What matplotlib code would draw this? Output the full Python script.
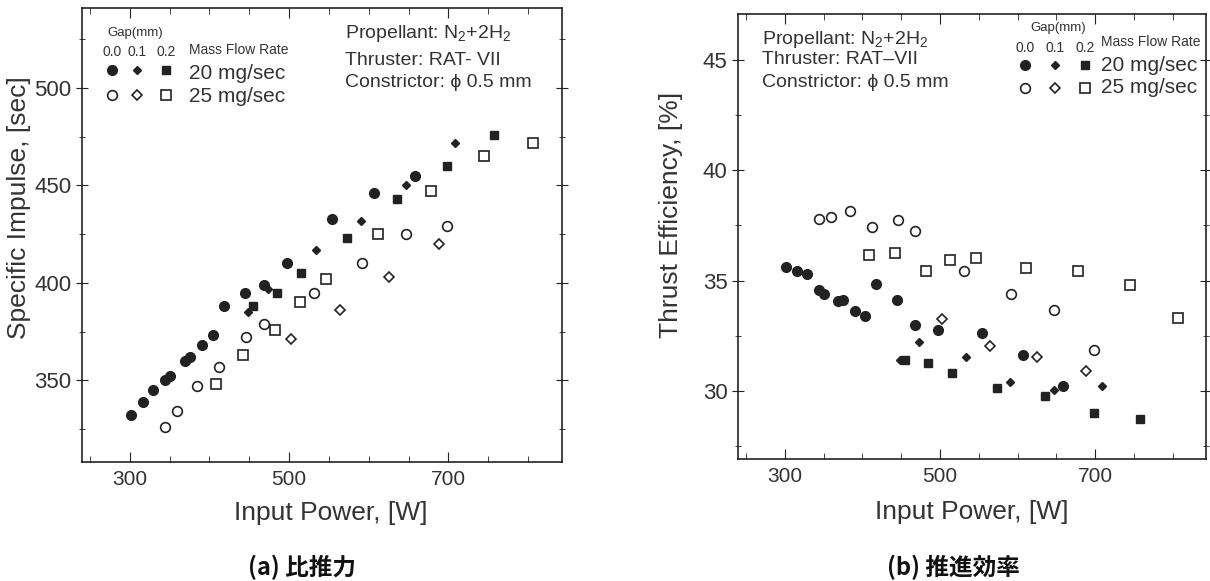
import matplotlib
matplotlib.use('Agg')
import matplotlib.pyplot as plt
from matplotlib.ticker import MultipleLocator

plt.rcParams['font.family'] = ['Liberation Sans', 'DejaVu Sans']
plt.rcParams['mathtext.default'] = 'regular'

INK = '#222222'
TXT = '#333333'

# 20 mg/sec, gap 0.0 / 0.1 / 0.2 mm (filled markers)
power_c20 = [302, 316, 329, 344, 350, 369, 375, 391, 404, 418, 445, 468, 497, 554, 607, 658]
isp_c20 = [332, 339, 345, 350, 352, 360, 362, 368, 373, 388, 395, 399, 410, 433, 446, 455]
eff_c20 = [35.6, 35.45, 35.3, 34.55, 34.4, 34.05, 34.1, 33.6, 33.4, 34.85, 34.1, 33.0, 32.75, 32.6, 31.6, 30.2]

power_d20 = [448, 473, 534, 590, 647, 708]
isp_d20 = [385, 397, 417, 432, 450, 472]
eff_d20 = [31.4, 32.2, 31.55, 30.4, 30.05, 30.2]

power_s20 = [455, 485, 515, 573, 635, 698, 757]
isp_s20 = [388, 395, 405, 423, 443, 460, 476]
eff_s20 = [31.4, 31.25, 30.8, 30.1, 29.75, 29.0, 28.7]

# 25 mg/sec (open markers)
power_c25 = [344, 359, 384, 412, 446, 468, 531, 591, 647, 698]
isp_c25 = [326, 334, 347, 357, 372, 379, 395, 410, 425, 429]
eff_c25 = [37.8, 37.9, 38.15, 37.45, 37.75, 37.25, 35.45, 34.4, 33.65, 31.85]

power_d25 = [502, 564, 625, 688]
isp_d25 = [371, 386, 403, 420]
eff_d25 = [33.25, 32.05, 31.55, 30.9]

power_s25 = [408, 442, 482, 513, 546, 611, 678, 745, 806]
isp_s25 = [348, 363, 376, 390, 402, 425, 447, 465, 472]
eff_s25 = [36.15, 36.25, 35.45, 35.95, 36.0, 35.55, 35.45, 34.8, 33.3]

gap_labels = ['0.0', '0.1', '0.2']
flow_labels = ['20 mg/sec', '25 mg/sec']

STYLES = {
    'c20': dict(marker='o', ms=7.0, mfc=INK, mec=INK),
    'd20': dict(marker='D', ms=4.5, mfc=INK, mec=INK),
    's20': dict(marker='s', ms=6.3, mfc=INK, mec=INK),
    'c25': dict(marker='o', ms=7.0, mfc='white', mec=INK, mew=1.2),
    'd25': dict(marker='D', ms=5.5, mfc='white', mec=INK, mew=1.2),
    's25': dict(marker='s', ms=7.5, mfc='white', mec=INK, mew=1.2),
}


def style_axes(ax):
    for sp in ax.spines.values():
        sp.set_color(INK)
        sp.set_linewidth(1.2)
    ax.tick_params(which='both', top=True, right=True, colors=INK, labelcolor=TXT)
    ax.tick_params(axis='x', which='major', direction='in', length=7, labelsize=15, pad=6)
    ax.tick_params(axis='x', which='minor', direction='in', length=4)
    ax.tick_params(axis='y', which='major', direction='inout', length=9, labelsize=16, pad=3)
    ax.tick_params(axis='y', which='minor', direction='inout', length=5)
    ax.set_xlim(240, 843)
    ax.xaxis.set_minor_locator(MultipleLocator(50))
    ax.set_xticks([300, 500, 700])


def plot_series(ax, series):
    for key, x, y in series:
        ax.plot(x, y, linestyle='none', **STYLES[key])


def draw_key(ax, gx, gy, mx, my, fx, fy):
    ax.text(gx, gy, 'Gap(mm)', transform=ax.transAxes, ha='center', va='center',
            fontsize=9.5, color=TXT)
    for i, lab in enumerate(gap_labels):
        ax.text(mx[i], my[0], lab, transform=ax.transAxes, ha='center', va='center',
                fontsize=10, color=TXT)
    rows = [['c20', 'd20', 's20'], ['c25', 'd25', 's25']]
    for r, keys in enumerate(rows):
        for i, key in enumerate(keys):
            ax.plot(mx[i], my[r + 1], transform=ax.transAxes, clip_on=False,
                    linestyle='none', **STYLES[key])
    ax.text(fx, fy[0], 'Mass Flow Rate', transform=ax.transAxes, ha='left', va='center',
            fontsize=10, color=TXT)
    for r, lab in enumerate(flow_labels):
        ax.text(fx, fy[r + 1], lab, transform=ax.transAxes, ha='left', va='center',
                fontsize=15, color=TXT)


def draw_notes(ax, x, ys, thruster):
    lines = ['Propellant: N$_2$+2H$_2$', 'Thruster: ' + thruster, 'Constrictor: \u03d5 0.5 mm']
    for y, line in zip(ys, lines):
        ax.text(x, y, line, transform=ax.transAxes, ha='left', va='center',
                fontsize=14, color=TXT)


fig = plt.figure(figsize=(12.1, 5.81), dpi=100)

# (a) specific impulse
ax1 = fig.add_axes([0.0678, 0.2048, 0.397, 0.781])
style_axes(ax1)
plot_series(ax1, [('c20', power_c20, isp_c20), ('d20', power_d20, isp_d20),
                  ('s20', power_s20, isp_s20), ('c25', power_c25, isp_c25),
                  ('d25', power_d25, isp_d25), ('s25', power_s25, isp_s25)])
ax1.set_ylim(308, 541)
ax1.yaxis.set_major_locator(MultipleLocator(50))
ax1.yaxis.set_minor_locator(MultipleLocator(25))
ax1.set_xlabel('Input Power, [W]', fontsize=19, color=TXT)
ax1.set_ylabel('Specific Impulse, [sec]', fontsize=19, color=TXT)
ax1.xaxis.set_label_coords(0.517, -0.086)
ax1.yaxis.set_label_coords(-0.106, 0.56)
draw_key(ax1, 0.110, 0.945, [0.0625, 0.115, 0.175], [0.903, 0.863, 0.808],
         0.223, [0.907, 0.857, 0.806])
draw_notes(ax1, 0.548, [0.945, 0.885, 0.837], 'RAT- VII')

# (b) thrust efficiency
ax2 = fig.add_axes([0.61, 0.21, 0.387, 0.766])
style_axes(ax2)
plot_series(ax2, [('c20', power_c20, eff_c20), ('d20', power_d20, eff_d20),
                  ('s20', power_s20, eff_s20), ('c25', power_c25, eff_c25),
                  ('d25', power_d25, eff_d25), ('s25', power_s25, eff_s25)])
ax2.set_ylim(26.9, 47.1)
ax2.yaxis.set_major_locator(MultipleLocator(5))
ax2.yaxis.set_minor_locator(MultipleLocator(2.5))
ax2.set_xlabel('Input Power, [W]', fontsize=19, color=TXT)
ax2.set_ylabel('Thrust Efficiency, [%]', fontsize=19, color=TXT)
ax2.xaxis.set_label_coords(0.5, -0.093)
ax2.yaxis.set_label_coords(-0.117, 0.548)
draw_key(ax2, 0.684, 0.969, [0.613, 0.677, 0.741], [0.924, 0.885, 0.834],
         0.776, [0.937, 0.885, 0.834])
draw_notes(ax2, 0.051, [0.942, 0.897, 0.847], 'RAT\u2013VII')

cap_font = ['Noto Sans CJK JP', 'DejaVu Sans']
fig.text(0.250, 0.024, '(a) 比推力', ha='center', va='center', fontsize=17,
         fontweight='bold', family=cap_font, color='#111111')
fig.text(0.788, 0.024, '(b) 推進効率', ha='center', va='center', fontsize=17,
         fontweight='bold', family=cap_font, color='#111111')

fig.savefig('out.png', dpi=100)
plt.close(fig)
